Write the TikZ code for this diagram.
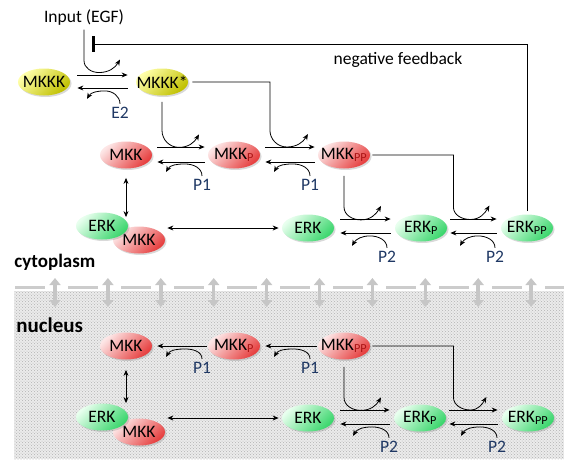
\documentclass[tikz,border=0pt]{standalone}
\usepackage{fontspec}
\setmainfont{Carlito}
\usetikzlibrary{arrows.meta, shapes.geometric, shadows, patterns}

\definecolor{yellight}{RGB}{255,255,170}
\definecolor{yeldark}{RGB}{192,192,0}
\definecolor{redlight}{RGB}{253,230,230}
\definecolor{reddark}{RGB}{230,62,62}
\definecolor{greenlight}{RGB}{232,255,238}
\definecolor{greendark}{RGB}{58,214,108}
\definecolor{subred}{RGB}{170,20,20}
\definecolor{enzblue}{RGB}{31,56,100}

\tikzset{
	species/.style={ellipse, minimum width=52pt, minimum height=27pt, inner xsep=-8pt, inner ysep=0pt,
		drop shadow={opacity=0.3, shadow xshift=1.5pt, shadow yshift=-1.5pt}},
	yellowsp/.style={species, top color=yellight, bottom color=yeldark, shading angle=45},
	redsp/.style={species, top color=redlight, bottom color=reddark, shading angle=45},
	greensp/.style={species, top color=greenlight, bottom color=greendark, shading angle=45},
	enzyme/.style={text=enzblue, inner sep=3pt},
	region/.style={font=\fontsize{21}{25}\selectfont\bfseries, inner sep=0pt, anchor=base west},
	membrane/.style={gray!40, line width=3pt, dash pattern=on 30pt off 23pt},
	pore/.style={{Triangle[width=11pt,length=7pt]}-{Triangle[width=11pt,length=7pt]}, gray!45, line width=3.5pt}
}

\begin{document}
\begin{tikzpicture}[x=1pt, y=1pt, font=\fontsize{17.5}{20}\selectfont, >={Stealth[length=6pt,width=5pt]}, line width=0.8pt]
	\useasboundingbox (0,0) rectangle (564,459);
	% nucleus and membrane
	\fill[gray!16] (14,0) rectangle (564,168);
	\fill[pattern=crosshatch dots, pattern color=gray!60] (14,0) rectangle (564,168);
	\draw[membrane] (15,172) -- (564,172);
	\foreach \i in {0,...,9}
		\draw[pore] (55+52.9*\i,152) -- (55+52.9*\i,181);
	\node[region, font=\fontsize{19}{23}\selectfont\bfseries] (cyto) at (14,192) {cytoplasm};
	\node[region] (nuc) at (16,127) {nucleus};

	% cytoplasm
	\node (input) at (84,441) {Input (EGF)};
	\node (negfb) at (398,399) {negative feedback};
	\node[yellowsp] (mkkk) at (44,377) {MKKK};
	\node[yellowsp] (mkkks) at (162,377) {MKKK*};
	\node[enzyme] (e2) at (120,346) {E2};
	\node[redsp] (mkk) at (126,304) {MKK};
	\node[redsp] (mkkp) at (234,304) {MKK\textsubscript{\color{subred}P}};
	\node[redsp] (mkkpp) at (344,304) {MKK\textsubscript{\color{subred}PP}};
	\node[enzyme] (p1a) at (202,274) {P1};
	\node[enzyme] (p1b) at (310,274) {P1};
	\node[redsp] (cmkk) at (139,219) {MKK};
	\node[greensp] (cerk) at (102,233) {ERK};
	\node[greensp] (erk) at (308,231) {ERK};
	\node[greensp] (erkp) at (421,231) {ERK\textsubscript{P}};
	\node[greensp] (erkpp) at (527,231) {ERK\textsubscript{PP}};
	\node[enzyme] (p2a) at (387,202) {P2};
	\node[enzyme] (p2b) at (495,202) {P2};
	\coordinate (fbend) at (92,415);

	\draw[->, shorten <=7pt, shorten >=8pt] ([yshift=7pt]mkkk.east) -- ([yshift=7pt]mkkks.west);
	\draw[->, shorten <=8pt, shorten >=7pt] ([yshift=-6pt]mkkks.west) -- ([yshift=-6pt]mkkk.east);
	\draw[->] (input.south) -- ++(0,-31) to[out=-90,in=180] ++(15,-12) to[out=0,in=-120] ++(21,13);
	\draw[->] (e2.north) to[out=90,in=0] ++(-15,13) to[out=180,in=60] ++(-18,-8);

	\draw[->, shorten <=5pt, shorten >=3pt] ([yshift=8pt]mkk.east) -- ([yshift=8pt]mkkp.west);
	\draw[->, shorten <=3pt, shorten >=5pt] ([yshift=-7pt]mkkp.west) -- ([yshift=-7pt]mkk.east);
	\draw[->, shorten <=5pt, shorten >=3pt] ([yshift=8pt]mkkp.east) -- ([yshift=8pt]mkkpp.west);
	\draw[->, shorten <=3pt, shorten >=5pt] ([yshift=-7pt]mkkpp.west) -- ([yshift=-7pt]mkkp.east);
	\draw[->, shorten <=6pt] (mkkks.south) -- ++(0,-34.5) to[out=-90,in=180] ++(17,-17) to[out=0,in=-120] ++(20,13);
	\draw[->, shorten <=4pt] (mkkks.east) -- ++(81.5,0) -- ++(0,-48) to[out=-90,in=180] ++(17,-17) to[out=0,in=-120] ++(21,13);
	\draw[->] (p1a.north) to[out=90,in=0] ++(-17,12) to[out=180,in=60] ++(-19,-8);
	\draw[->] (p1b.north) to[out=90,in=0] ++(-17,12) to[out=180,in=60] ++(-19,-8);

	\draw[->, shorten <=6pt, shorten >=4pt] ([yshift=9pt]erk.east) -- ([yshift=9pt]erkp.west);
	\draw[->, shorten <=4pt, shorten >=6pt] ([yshift=-5pt]erkp.west) -- ([yshift=-5pt]erk.east);
	\draw[->, shorten <=3pt, shorten >=4pt] ([yshift=9pt]erkp.east) -- ([yshift=9pt]erkpp.west);
	\draw[->, shorten <=4pt, shorten >=3pt] ([yshift=-5pt]erkpp.west) -- ([yshift=-5pt]erkp.east);
	\draw[->, shorten <=7pt] (mkkpp.south) -- ++(0,-38) to[out=-90,in=180] ++(17,-13) to[out=0,in=-120] ++(20,14);
	\draw[->, shorten <=2pt] (mkkpp.east) -- ++(83,0) -- ++(0,-52) to[out=-90,in=180] ++(17,-12.5) to[out=0,in=-120] ++(19,14);
	\draw[->] (p2a.north) to[out=90,in=0] ++(-17,12) to[out=180,in=60] ++(-18,-10);
	\draw[->] (p2b.north) to[out=90,in=0] ++(-17,12) to[out=180,in=60] ++(-18,-10);

	\draw[<->, shorten <=9pt, shorten >=9pt] (mkk.south) -- (mkk.south |- cmkk.north);
	\draw[<->, shorten <=2pt, shorten >=3pt] (cmkk.east |- erk.west) -- (erk.west);
	\draw[-{Bar[width=16pt,line width=2.5pt]}, shorten <=3pt] (erkpp.north) |- (fbend);

	% nucleus
	\node[redsp] (nmkk) at (126,113) {MKK};
	\node[redsp] (nmkkp) at (234,113) {MKK\textsubscript{\color{subred}P}};
	\node[redsp] (nmkkpp) at (344,113) {MKK\textsubscript{\color{subred}PP}};
	\node[enzyme] (np1a) at (202,91) {P1};
	\node[enzyme] (np1b) at (310,91) {P1};
	\node[redsp] (ncmkk) at (139,27) {MKK};
	\node[greensp] (ncerk) at (102,42) {ERK};
	\node[greensp] (nerk) at (308,41) {ERK};
	\node[greensp] (nerkp) at (420,41) {ERK\textsubscript{P}};
	\node[greensp] (nerkpp) at (528,41) {ERK\textsubscript{PP}};
	\node[enzyme] (np2a) at (389,12) {P2};
	\node[enzyme] (np2b) at (497,12) {P2};

	\draw[->, shorten <=1pt, shorten >=5pt] (nmkkp.west) -- (nmkk.east);
	\draw[->, shorten <=1pt, shorten >=5pt] (nmkkpp.west) -- (nmkkp.east);
	\draw[->] (np1a.north) to[out=90,in=0] ++(-17,10) to[out=180,in=60] ++(-19,-8);
	\draw[->] (np1b.north) to[out=90,in=0] ++(-17,10) to[out=180,in=60] ++(-19,-8);

	\draw[->, shorten <=6pt, shorten >=4pt] ([yshift=8pt]nerk.east) -- ([yshift=8pt]nerkp.west);
	\draw[->, shorten <=4pt, shorten >=6pt] ([yshift=-6pt]nerkp.west) -- ([yshift=-6pt]nerk.east);
	\draw[->, shorten <=3pt, shorten >=4pt] ([yshift=8pt]nerkp.east) -- ([yshift=8pt]nerkpp.west);
	\draw[->, shorten <=4pt, shorten >=3pt] ([yshift=-6pt]nerkpp.west) -- ([yshift=-6pt]nerkp.east);
	\draw[->, shorten <=7pt] (nmkkpp.south) -- ++(0,-37.5) to[out=-90,in=180] ++(17,-13) to[out=0,in=-120] ++(20,13);
	\draw[->, shorten <=2pt] (nmkkpp.east) -- ++(83,0) -- ++(0,-51) to[out=-90,in=180] ++(17,-13) to[out=0,in=-120] ++(16,13);
	\draw[->] (np2a.north) to[out=90,in=0] ++(-17,11) to[out=180,in=60] ++(-19,-9);
	\draw[->] (np2b.north) to[out=90,in=0] ++(-17,11) to[out=180,in=60] ++(-19,-9);

	\draw[<->, shorten <=10pt] (nmkk.south) -- (nmkk.south |- ncerk.north);
	\draw[<->, shorten <=2pt, shorten >=3pt] (ncmkk.east |- nerk.west) -- (nerk.west);
\end{tikzpicture}
\end{document}
